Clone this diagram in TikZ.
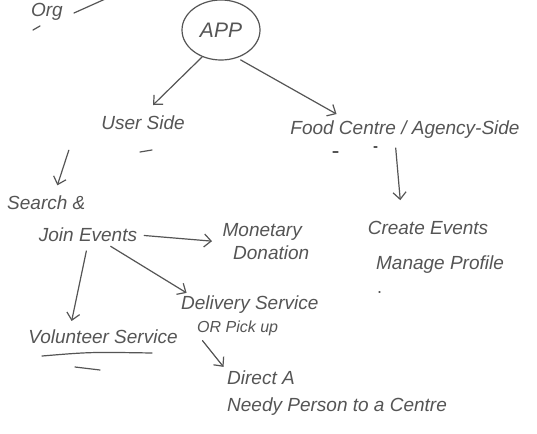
\documentclass[tikz,border=0pt]{standalone}
\usepackage{fontspec}
\setmainfont{Liberation Sans}
\usetikzlibrary{arrows.meta,shapes.geometric}
\definecolor{ink}{RGB}{85,85,85}
\tikzset{
  hand/.style={text=ink,font=\itshape\fontsize{19}{23}\selectfont,inner sep=1pt,align=center},
  conn/.style={draw=ink,line width=1.2pt,line cap=round,-{Straight Barb[length=7pt,width=13pt,line width=1.2pt]}},
  stroke/.style={draw=ink,line width=1.2pt,line cap=round}
}
\begin{document}
\begin{tikzpicture}[x=1pt,y=-1pt]
\useasboundingbox[fill=white] (0,0) rectangle (537,433);
\begin{scope}
\clip (0,0) rectangle (537,433);
\node[hand,anchor=east] (org) at (64,12) {Org};
\coordinate (orgend) at (112,-4);
\draw[stroke] (74,13) -- (orgend);
\draw[stroke] (33,30) -- (40,26);
\node[draw=ink,line width=1.2pt,ellipse,minimum width=78pt,minimum height=60pt,hand,font=\itshape\fontsize{21}{25}\selectfont] (app) at (221,30) {APP};
\end{scope}
\node[hand] (user) at (143,123) {User Side};
\draw[stroke] (140,152) -- (152,150);
\node[hand] (food) at (405,130) {Food Centre / Agency-Side};
\draw[stroke] (333,152) -- (338,152);
\draw[stroke] (374,147) -- (377,147);
\node[hand] (create) at (428,228) {Create Events};
\node[hand] (profile) at (440,265) {Manage Profile};
\draw[stroke] (379,292) -- (380,292);
\node[hand,anchor=west] (search) at (6,203) {Search \&};
\node[hand] (join) at (88,235) {Join Events};
\node[hand,anchor=north west] (money) at (214,222) {Monetary\\\hspace*{18pt}Donation};
\node[hand,anchor=north west,align=left] (deliv) at (180,295) {Delivery Service\\\hspace*{16pt}{\fontsize{16}{18}\selectfont OR Pick up}};
\node[hand] (vol) at (103,337) {Volunteer Service};
\draw[stroke] (42,356) .. controls (90,352) .. (152,353);
\draw[stroke] (75,367) -- (100,370);
\node[hand,anchor=north west,align=left] (direct) at (226,370) {Direct A\\[4pt]Needy Person to a Centre};
% connectors
\draw[conn,shorten >=14pt] (app.235) -- (user.north);
\draw[conn,shorten <=4pt,shorten >=12pt] (app.-60) -- ([xshift=-58pt]food.north);
\draw[conn,shorten <=8pt,shorten >=20pt] ([xshift=-10pt]food.south) -- ([xshift=-26pt]create.north);
\draw[conn,shorten <=20pt,shorten >=10pt] ([xshift=-68pt]user.south) -- ([xshift=8pt]search.north);
\draw[conn,shorten <=6pt,shorten >=2pt] (join.east) -- (money.west);
\draw[conn,shorten <=6pt,shorten >=4pt] (join.-25) -- ([xshift=10pt]deliv.north west);
\draw[conn,shorten <=8pt,shorten >=8pt] (join.south) -- ([xshift=-33pt]vol.north);
\draw[conn,shorten <=4pt,shorten >=4pt] ([xshift=20pt]deliv.south west) -- (direct.north west);
\end{tikzpicture}
\end{document}
